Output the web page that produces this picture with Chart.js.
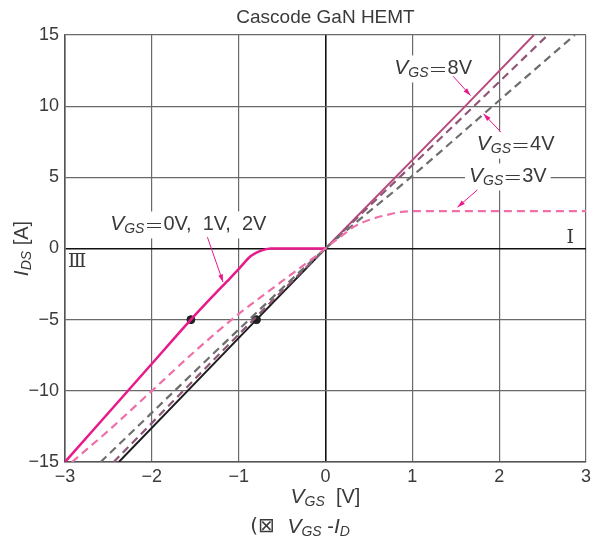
<!DOCTYPE html>
<html lang="ja">
<head>
    <meta charset="UTF-8" />
    <title>Cascode GaN HEMT</title>
    <script src="https://cdn.jsdelivr.net/npm/chart.js@4/dist/chart.umd.min.js"></script>
    <style>
        body { margin: 0; background: #fff; }
    </style>
</head>
<body>
    <canvas id="myChart" width="600" height="555"></canvas>

    <script>
        // tick values
        var xTicks = [-3, -2, -1, 0, 1, 2, 3];
        var yTicks = [-15, -10, -5, 0, 5, 10, 15];

        // VGS = 0V, 1V, 2V
        var v012 = [-3, -2, -1.55, -1.29, -1.1, -0.99, -0.86, -0.75, -0.63, 0];
        var i012 = [-15, -8.1, -5, -3.3, -2.1, -1.38, -0.53, -0.17, 0, 0];
        // VGS = 3V
        var v3 = [-2.92, -2.5, -2.0, -1.5, -1.0, -0.5, 0, 0.1, 0.2, 0.32, 0.5, 0.7, 0.85, 1.0, 3];
        var i3 = [-15, -12.8, -10, -7.2, -4.6, -2.3, 0, 0.5, 0.95, 1.5, 2.0, 2.35, 2.55, 2.62, 2.62];
        // unlabeled grey curve
        var vGray = [-2.59, -0.88, 0, 1, 2, 2.87];
        var iGray = [-15, -5, 0, 5.1, 10.4, 15];
        // VGS = 4V
        var v4 = [-2.44, -0.83, 0, 1.71, 2.56];
        var i4 = [-15, -5, 0, 10, 15];
        // VGS = 8V
        var v8 = [-2.38, -0.795, 0, 1.61, 2.4];
        var i8 = [-15, -5, 0, 10, 15];
        // marked points
        var dotV = [-1.55, -0.795];
        var dotI = [-5, -5];

        function pts(xs, ys) {
            return xs.map(function (x, k) { return { x: x, y: ys[k] }; });
        }
        function minus(v) {
            return String(v).replace('-', '\u2212');
        }

        var FONT = '"Liberation Sans", Arial, sans-serif';
        var CJK = '"Noto Sans CJK JP", sans-serif';
        var TXT = '#3a3a3a';
        var ARROW = '#e8198b';

        // draws text made of several runs (for subscripts)
        function rich(ctx, parts, x, y, bg) {
            var w = 0;
            parts.forEach(function (p) { ctx.font = p[1]; w += ctx.measureText(p[0]).width; });
            var left = x - w / 2;
            if (bg) {
                ctx.fillStyle = '#fff';
                ctx.fillRect(left - 4, y - 13, w + 8, 27);
            }
            ctx.fillStyle = TXT;
            ctx.textAlign = 'left';
            ctx.textBaseline = 'middle';
            parts.forEach(function (p) {
                ctx.font = p[1];
                ctx.fillText(p[0], left, y + (p[2] || 0));
                left += ctx.measureText(p[0]).width;
            });
        }
        function vgs(rest) {
            return [
                ['V', 'italic 21px ' + FONT],
                ['GS', 'italic 14px ' + FONT, 5],
                ['\uFF1D', '300 19px ' + CJK, 1],
                [rest, '20px ' + FONT]
            ];
        }
        function arrow(ctx, x1, y1, x2, y2) {
            var a = Math.atan2(y2 - y1, x2 - x1);
            ctx.strokeStyle = ARROW;
            ctx.fillStyle = ARROW;
            ctx.lineWidth = 1;
            ctx.beginPath();
            ctx.moveTo(x1, y1);
            ctx.lineTo(x2, y2);
            ctx.stroke();
            ctx.beginPath();
            ctx.moveTo(x2, y2);
            ctx.lineTo(x2 - 8 * Math.cos(a - 0.3), y2 - 8 * Math.sin(a - 0.3));
            ctx.lineTo(x2 - 8 * Math.cos(a + 0.3), y2 - 8 * Math.sin(a + 0.3));
            ctx.closePath();
            ctx.fill();
        }

        var notes = {
            id: 'notes',
            afterDraw: function (chart) {
                var ctx = chart.ctx;
                var xs = chart.scales.x, ys = chart.scales.y;
                var ca = chart.chartArea;
                function px(v) { return xs.getPixelForValue(v); }
                function py(v) { return ys.getPixelForValue(v); }
                ctx.save();

                // labels with arrows
                rich(ctx, vgs('8V'), px(1.24), py(12.65), true);
                arrow(ctx, px(1.47), py(12.1), px(1.67), py(10.75));
                rich(ctx, vgs('4V'), px(2.19), py(7.3), true);
                arrow(ctx, px(2.02), py(8.17), px(1.82), py(9.47));
                rich(ctx, vgs('3V'), px(2.1), py(5.06), true);
                arrow(ctx, px(1.75), py(4.12), px(1.52), py(2.9));
                rich(ctx, vgs('0V,  1V,  2V'), px(-1.58), py(1.69), true);
                arrow(ctx, px(-1.36), py(0.8), px(-1.18), py(-2.36));

                // quadrant marks
                ctx.fillStyle = TXT;
                ctx.font = '19px "DejaVu Serif", serif';
                ctx.textAlign = 'center';
                ctx.textBaseline = 'middle';
                ctx.fillText('\u2160', px(2.82), py(0.7));
                ctx.fillText('\u2162', px(-2.86), py(-0.96));

                // title
                ctx.font = '19px ' + FONT;
                ctx.fillText('Cascode GaN HEMT', (ca.left + ca.right) / 2, 18);

                // axis titles
                rich(ctx, [
                    ['V', 'italic 21px ' + FONT],
                    ['GS', 'italic 14px ' + FONT, 5],
                    ['  [V]', '20px ' + FONT]
                ], (ca.left + ca.right) / 2, 497);
                ctx.save();
                ctx.translate(ca.left - 43, (ca.top + ca.bottom) / 2);
                ctx.rotate(-Math.PI / 2);
                rich(ctx, [
                    ['I', 'italic 21px ' + FONT],
                    ['DS', 'italic 14px ' + FONT, 5],
                    [' [A]', '20px ' + FONT]
                ], 0, 0);
                ctx.restore();

                // caption
                rich(ctx, [
                    ['(\u22A0  ', '20px "DejaVu Sans", ' + FONT],
                    ['V', 'italic 21px ' + FONT],
                    ['GS', 'italic 14px ' + FONT, 5],
                    [' -', '20px ' + FONT],
                    ['I', 'italic 21px ' + FONT],
                    ['D', 'italic 14px ' + FONT, 5]
                ], 300, 527);

                ctx.restore();
            }
        };

        var ctx = document.getElementById('myChart').getContext('2d');
        var myChart = new Chart(ctx, {
            type: 'scatter',
            data: {
                datasets: [
                    {
                        label: 'VGS=3V',
                        data: pts(v3, i3),
                        borderColor: '#ef70a9',
                        borderWidth: 2.2,
                        borderDash: [8, 5],
                        cubicInterpolationMode: 'monotone'
                    },
                    {
                        label: 'grey',
                        data: pts(vGray, iGray),
                        borderColor: '#6e6e6e',
                        borderWidth: 2.2,
                        borderDash: [8, 5],
                        cubicInterpolationMode: 'monotone'
                    },
                    {
                        label: 'VGS=4V',
                        data: pts(v4, i4),
                        borderColor: '#8e5677',
                        borderWidth: 2.2,
                        borderDash: [8, 5],
                        cubicInterpolationMode: 'monotone'
                    },
                    {
                        label: 'VGS=8V',
                        data: pts(v8, i8),
                        borderWidth: 2,
                        borderColor: '#b84a7e',
                        segment: {
                            borderColor: function (c) { return c.p0.parsed.x < 0 ? '#1e1e1e' : '#b84a7e'; }
                        }
                    },
                    {
                        label: 'VGS=0V,1V,2V',
                        data: pts(v012, i012),
                        borderColor: '#e8198b',
                        borderWidth: 2.5,
                        cubicInterpolationMode: 'monotone'
                    },
                    {
                        label: 'dots',
                        data: pts(dotV, dotI),
                        showLine: false,
                        pointRadius: 4,
                        backgroundColor: '#222',
                        borderColor: '#222'
                    }
                ].map(function (d) {
                    if (d.showLine === undefined) d.showLine = true;
                    if (d.pointRadius === undefined) d.pointRadius = 0;
                    d.fill = false;
                    return d;
                })
            },
            options: {
                responsive: false,
                animation: false,
                events: [],
                layout: { padding: { top: 35, right: 14, bottom: 63, left: 0 } },
                plugins: {
                    legend: { display: false },
                    tooltip: { enabled: false }
                },
                scales: {
                    x: {
                        type: 'linear',
                        min: -3,
                        max: 3,
                        afterBuildTicks: function (s) { s.ticks = xTicks.map(function (v) { return { value: v }; }); },
                        afterFit: function (s) { s.height = 30; },
                        ticks: {
                            color: TXT,
                            font: { family: FONT, size: 18 },
                            padding: 4,
                            maxRotation: 0,
                            callback: minus
                        },
                        grid: {
                            drawTicks: false,
                            color: function (c) { return c.tick && c.tick.value === 0 ? '#111' : '#6a6a6a'; },
                            lineWidth: function (c) { return c.tick && c.tick.value === 0 ? 1.6 : 1.2; }
                        },
                        border: { color: '#555', width: 1.6 }
                    },
                    y: {
                        type: 'linear',
                        min: -15,
                        max: 15,
                        afterBuildTicks: function (s) { s.ticks = yTicks.map(function (v) { return { value: v }; }); },
                        afterFit: function (s) { s.width = 65; },
                        ticks: {
                            color: TXT,
                            font: { family: FONT, size: 18 },
                            padding: 6,
                            callback: minus
                        },
                        grid: {
                            drawTicks: false,
                            color: function (c) { return c.tick && c.tick.value === 0 ? '#111' : '#6a6a6a'; },
                            lineWidth: function (c) { return c.tick && c.tick.value === 0 ? 1.6 : 1.2; }
                        },
                        border: { color: '#555', width: 1.6 }
                    }
                }
            },
            plugins: [notes]
        });
    </script>
</body>
</html>
